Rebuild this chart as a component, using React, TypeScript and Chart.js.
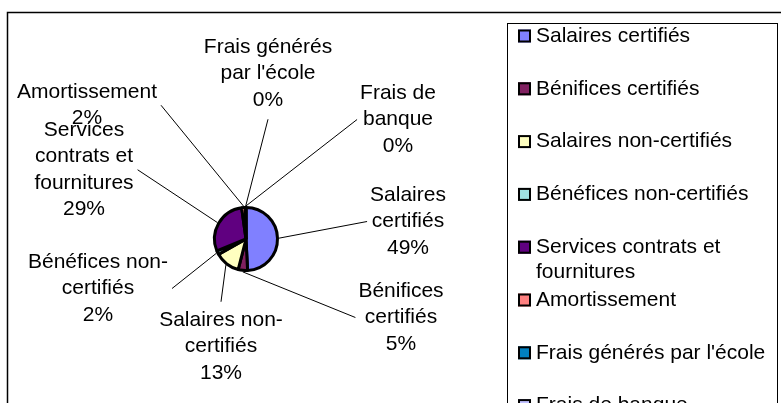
import React, { useEffect, useRef } from "react";
import { Chart, registerables } from "chart.js";

Chart.register(...registerables);

// ---- data ----
const categories = [
  "Salaires certifiés",
  "Bénifices certifiés",
  "Salaires non-certifiés",
  "Bénéfices non-certifiés",
  "Services contrats et fournitures",
  "Amortissement",
  "Frais générés par l'école",
  "Frais de banque",
];
const values = [49.2, 4.8, 12.9, 1.9, 29.0, 2.0, 0.1, 0.1];
const colors = ["#8080FF", "#802060", "#FFFFC0", "#A0E0E0", "#600080", "#FF8080", "#0080C0", "#C0C0FF"];
// data label text (category names as displayed, wrapped)
const labelLines = [
  ["Salaires", "certifiés"],
  ["Bénifices", "certifiés"],
  ["Salaires non-", "certifiés"],
  ["Bénéfices non-", "certifiés"],
  ["Services", "contrats et", "fournitures"],
  ["Amortissement"],
  ["Frais générés", "par l'école"],
  ["Frais de", "banque"],
];

// ---- layout (label block centres relative to pie centre) ----
const LABEL_OFFSETS = [
  [162, -17.5],
  [155, 78.5],
  [-25, 107.5],
  [-148, 49.5],
  [-162, -69.25],
  [-159, -133.75],
  [22, -165.5],
  [152, -119.5],
];

const FONT = "21px Arial, 'Liberation Sans', sans-serif";
const LINE_H = 26.5;

function wrap(ctx: CanvasRenderingContext2D, text: string, maxW: number): string[] {
  const words = text.split(" ");
  const lines: string[] = [];
  let cur = "";
  for (const w of words) {
    const t = cur ? cur + " " + w : w;
    if (cur && ctx.measureText(t).width > maxW) {
      lines.push(cur);
      cur = w;
    } else cur = t;
  }
  if (cur) lines.push(cur);
  return lines;
}

const decor = {
  id: "decor",
  afterDraw(chart: any) {
    const ctx: CanvasRenderingContext2D = chart.ctx;
    const meta = chart.getDatasetMeta(0);
    ctx.save();
    // chart frame
    ctx.strokeStyle = "#000";
    ctx.lineWidth = 1.5;
    ctx.beginPath();
    ctx.moveTo(7.5, 430);
    ctx.lineTo(7.5, 12.5);
    ctx.lineTo(800, 12.5);
    ctx.stroke();

    // legend box
    ctx.lineWidth = 1;
    ctx.strokeRect(507.5, 23.5, 270, 430);

    ctx.font = FONT;
    ctx.fillStyle = "#000";
    ctx.textBaseline = "middle";

    // legend items
    const labels = chart.data.labels as string[];
    const bg = chart.data.datasets[0].backgroundColor as string[];
    labels.forEach((lab, i) => {
      const cy = 36 + i * 52.8;
      ctx.fillStyle = bg[i];
      ctx.fillRect(518, cy - 6.5, 13, 13);
      ctx.strokeStyle = "#000";
      ctx.lineWidth = 2;
      ctx.strokeRect(519, cy - 5.5, 11, 11);
      ctx.fillStyle = "#000";
      ctx.textAlign = "left";
      const lines = wrap(ctx, lab, 236);
      lines.forEach((ln, k) => ctx.fillText(ln, 536, cy + k * 25));
    });

    // data labels with leader lines
    const data = chart.data.datasets[0].data as number[];
    const total = data.reduce((a, b) => a + b, 0);
    ctx.textAlign = "center";
    meta.data.forEach((arc: any, i: number) => {
      const p = arc.getProps(["x", "y", "startAngle", "endAngle", "outerRadius"], true);
      const mid = (p.startAngle + p.endAngle) / 2;
      const r = p.outerRadius + 1.5;
      const ax = p.x + Math.cos(mid) * r;
      const ay = p.y + Math.sin(mid) * r;
      const lines = [...labelLines[i], Math.round((data[i] / total) * 100) + "%"];
      const cx = p.x + LABEL_OFFSETS[i][0];
      const cyc = p.y + LABEL_OFFSETS[i][1];
      const hw = Math.max(...lines.map((l) => ctx.measureText(l).width)) / 2;
      const hh = (lines.length * LINE_H) / 2;
      let ex: number, ey: number;
      if (cx - hw > ax) {
        ex = cx - hw - 3;
        ey = cyc;
      } else if (cx + hw < ax) {
        ex = cx + hw + 4;
        ey = cyc;
      } else if (cyc < ay) {
        ex = cx;
        ey = cyc + hh + 6;
      } else {
        ex = cx;
        ey = cyc - hh - 5;
      }
      ctx.strokeStyle = "#000";
      ctx.lineWidth = 1;
      ctx.beginPath();
      ctx.moveTo(ax, ay);
      ctx.lineTo(ex, ey);
      ctx.stroke();
      ctx.fillStyle = "#000";
      const top = cyc - hh + LINE_H / 2;
      lines.forEach((ln, k) => ctx.fillText(ln, cx, top + k * LINE_H));
    });
    ctx.restore();
  },
};

export default function App() {
  const ref = useRef<HTMLCanvasElement>(null);
  useEffect(() => {
    if (!ref.current) return;
    const chart = new Chart(ref.current, {
      type: "pie",
      data: {
        labels: categories,
        datasets: [
          {
            data: values,
            backgroundColor: colors,
            borderColor: "#000",
            borderWidth: 3,
          },
        ],
      },
      options: {
        responsive: false,
        animation: false,
        devicePixelRatio: 1,
        layout: { padding: { left: 213, right: 502, top: 206, bottom: 131 } },
        plugins: {
          legend: { display: false },
          tooltip: { enabled: false },
          title: { display: false },
        },
      },
      plugins: [decor],
    } as any);
    return () => chart.destroy();
  }, []);
  return (
    <div style={{ position: "absolute", left: 0, top: 0, width: 781, height: 403, background: "#fff" }}>
      <canvas ref={ref} width={781} height={403} style={{ display: "block" }} />
    </div>
  );
}
